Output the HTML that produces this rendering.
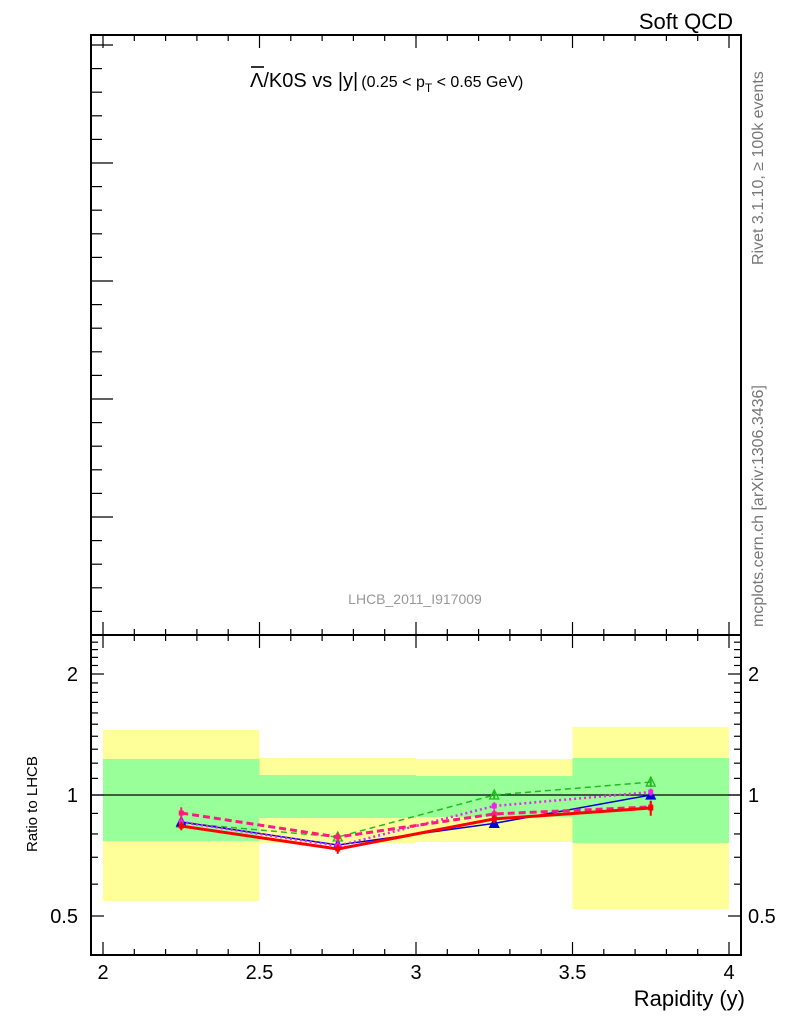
<!DOCTYPE html>
<html><head><meta charset="utf-8"><style>
html,body{margin:0;padding:0;background:#fff;}
svg{display:block;font-family:"Liberation Sans",sans-serif;}
</style></head><body>
<svg id="chart" width="786" height="1024" viewBox="0 0 786 1024" xmlns="http://www.w3.org/2000/svg">
<text x="733" y="29" font-size="22" text-anchor="end">Soft QCD</text>
<text x="250" y="87" font-size="20">Λ/K0S vs |y|<tspan font-size="16" dx="3">(0.25 &lt; p</tspan><tspan font-size="12" dy="5">T</tspan><tspan font-size="16" dy="-5"> &lt; 0.65 GeV)</tspan></text>
<line x1="251" y1="67" x2="264" y2="67" stroke="#000" stroke-width="1.6"/>
<text transform="translate(763,265) rotate(-90)" font-size="16" fill="#777">Rivet 3.1.10, ≥ 100k events</text>
<text transform="translate(763,627) rotate(-90)" font-size="16" fill="#777">mcplots.cern.ch [arXiv:1306.3436]</text>
<text x="415" y="604" font-size="14" fill="#999" text-anchor="middle">LHCB_2011_I917009</text>
<text transform="translate(37,852) rotate(-90)" font-size="15">Ratio to LHCB</text>
<text x="745" y="1006" font-size="22" text-anchor="end">Rapidity (y)</text>
<g id="bands"></g>
<g id="grid"></g>
<g id="series"></g>
</svg>
<script>
const binLo = [2.0, 2.5, 3.0, 3.5];
const binHi = [2.5, 3.0, 3.5, 4.0];
const yellowLo = [0.545, 0.760, 0.764, 0.520];
const yellowHi = [1.451, 1.236, 1.229, 1.477];
const greenLo = [0.768, 0.877, 0.882, 0.760];
const greenHi = [1.229, 1.121, 1.115, 1.236];
const xPts = [2.25, 2.75, 3.25, 3.75];
const redVals = [0.837, 0.734, 0.872, 0.928];
const redErr = [0.02, 0.02, 0.02, 0.04];
const blueVals = [0.857, 0.751, 0.850, 1.0];
const blueErr = [0.015, 0.015, 0.015, 0.02];
const greenVals = [0.852, 0.786, 1.0, 1.077];
const greenErr = [0.02, 0.02, 0.025, 0.03];
const magVals = [0.857, 0.747, 0.939, 1.017];
const magErr = [0.02, 0.02, 0.02, 0.02];
const pinkVals = [0.902, 0.786, 0.897, 0.934];
const pinkErr = [0.03, 0.02, 0.02, 0.03];
const xTickLabels = ["2", "2.5", "3", "3.5", "4"];
const yTickVals = [0.5, 1, 2];
const yTickLabels = ["0.5", "1", "2"];

const NS = "http://www.w3.org/2000/svg";
const X0 = 103, X1 = 729, L = 91, R = 741, PT = 635, PB = 955, MT = 35;
const sx = v => X0 + (v - 2) * (X1 - X0) / 2;
const sy = v => 795 - 121 * Math.log2(v);
function mk(tag, attrs, parent) {
  const e = document.createElementNS(NS, tag);
  for (const k in attrs) e.setAttribute(k, attrs[k]);
  parent.appendChild(e);
  return e;
}
const bands = document.getElementById('bands');
const grid = document.getElementById('grid');
const series = document.getElementById('series');

for (let i = 0; i < binLo.length; i++) {
  const y = mk('rect', {x: sx(binLo[i]), y: sy(yellowHi[i]), width: sx(binHi[i]) - sx(binLo[i]), height: sy(yellowLo[i]) - sy(yellowHi[i]), fill: '#ffff99'}, bands);
  
  
  const g = mk('rect', {x: sx(binLo[i]), y: sy(greenHi[i]), width: sx(binHi[i]) - sx(binLo[i]), height: sy(greenLo[i]) - sy(greenHi[i]), fill: '#99ff99'}, bands);
  
  
}
const one = mk('line', {x1: L, x2: R, y1: sy(1), y2: sy(1), stroke: '#000', 'stroke-width': 1.3}, grid);



// frames
const f1 = mk('rect', {x: L, y: MT, width: R - L, height: PT - MT, fill: 'none', stroke: '#000', 'stroke-width': 2}, grid);


const f2 = mk('rect', {x: L, y: PT, width: R - L, height: PB - PT, fill: 'none', stroke: '#000', 'stroke-width': 2}, grid);



// x ticks
for (let k = 0; k <= 20; k++) {
  const v = 2 + k * 0.1, major = k % 5 === 0, len = major ? 13 : 6, x = sx(v);
  [[MT, 1], [PT, -1], [PT, 1], [PB, -1]].forEach(([y0, d]) => {
    const t = mk('line', {x1: x, x2: x, y1: y0, y2: y0 + d * len, stroke: '#000', 'stroke-width': 1.2}, grid);
    
    
  });
  if (major) {
    const tl = mk('text', {x: x, y: 979, 'font-size': 20, 'text-anchor': 'middle'}, grid);
    tl.textContent = xTickLabels[k / 5];
    
    
  }
}
// main panel left ticks
for (let k = 0; k <= 25; k++) {
  const y = PT - k * 23.6;
  if (y < MT) break;
  const major = k % 5 === 0, len = major ? 22 : 11;
  const t = mk('line', {x1: L, x2: L + len, y1: y, y2: y, stroke: '#000', 'stroke-width': 1.2}, grid);
  
  
}
// ratio y ticks
for (let k = 4; k <= 25; k++) {
  const v = k / 10, major = (k === 5 || k === 10 || k === 20), len = major ? 13 : 7, y = sy(v);
  if (y < PT) continue;
  [[L, 1], [R, -1]].forEach(([x0, d]) => {
    const t = mk('line', {x1: x0, x2: x0 + d * len, y1: y, y2: y, stroke: '#000', 'stroke-width': 1.2}, grid);
    
    
  });
}
yTickVals.forEach((v, i) => {
  const tl = mk('text', {x: 78, y: sy(v) + 7, 'font-size': 20, 'text-anchor': 'end'}, grid);
  tl.textContent = yTickLabels[i];
  
  
  const tr = mk('text', {x: 748, y: sy(v) + 7, 'font-size': 20}, grid);
  tr.textContent = yTickLabels[i];
  
  
});

function drawSeries(name, vals, errs, color, width, dash, marker) {
  const g = mk('g', {}, series);
  
  
  const pts = xPts.map((x, i) => sx(x) + ',' + sy(vals[i])).join(' ');
  const p = mk('polyline', {points: pts, fill: 'none', stroke: color, 'stroke-width': width, 'stroke-dasharray': dash}, g);
  
  
  xPts.forEach((x, i) => {
    const cx = sx(x), cy = sy(vals[i]);
    const e = mk('line', {x1: cx, x2: cx, y1: sy(vals[i] + errs[i]), y2: sy(vals[i] - errs[i]), stroke: color, 'stroke-width': 2}, g);
    
    
    let m;
    if (marker === 'tri' || marker === 'otri') {
      m = mk('polygon', {points: `${cx},${cy - 5} ${cx - 4.5},${cy + 4} ${cx + 4.5},${cy + 4}`, fill: marker === 'tri' ? color : 'none', stroke: color, 'stroke-width': 1.3}, g);
    } else {
      m = mk('rect', {x: cx - 2.5, y: cy - 2.5, width: 5, height: 5, fill: color}, g);
    }
    
    
  });
}
drawSeries('series-green-dashed', greenVals, greenErr, '#22bb22', 1.5, '6,4', 'otri');
drawSeries('series-blue', blueVals, blueErr, '#0000dd', 1.5, '', 'tri');
drawSeries('series-magenta-dotted', magVals, magErr, '#ee22ee', 2.5, '2,3', 'sq');
drawSeries('series-pink-dashed', pinkVals, pinkErr, '#ff1a80', 3, '7,4', 'sq');
drawSeries('series-red', redVals, redErr, '#ff0000', 3, '', 'sq');
</script>
</body></html>
